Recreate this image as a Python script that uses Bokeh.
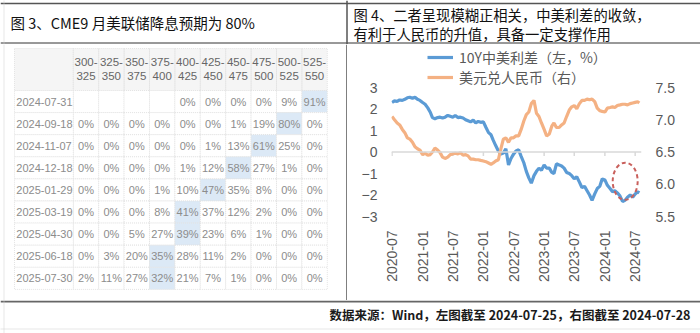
import math
from datetime import datetime
import pandas as pd
from bokeh.plotting import figure
from bokeh.layouts import column, row
from bokeh.models import (Range1d, LinearAxis, FixedTicker, Span, Label, Legend, LegendItem,
                          DatetimeTickFormatter, PrintfTickFormatter)
from bokeh.embed import file_html
from bokeh.resources import INLINE
from bokeh.core.properties import value

# ---------------- data ----------------
title_left = "图 3、CME9 月美联储降息预期为 80%"
title_right_1 = "图 4、二者呈现模糊正相关，中美利差的收敛，"
title_right_2 = "有利于人民币的升值，具备一定支撑作用"
footer_text = "数据来源：Wind，左图截至 2024-07-25，右图截至 2024-07-28"

rate_low = [300, 325, 350, 375, 400, 425, 450, 475, 500, 525]
rate_high = [325, 350, 375, 400, 425, 450, 475, 500, 525, 550]
meeting_dates = ["2024-07-31", "2024-09-18", "2024-11-07", "2024-12-18", "2025-01-29",
                 "2025-03-19", "2025-04-30", "2025-06-18", "2025-07-30"]
probs = [
    [None, None, None, None, 0, 0, 0, 0, 9, 91],
    [0, 0, 0, 0, 0, 0, 1, 19, 80, 0],
    [0, 0, 0, 0, 0, 1, 13, 61, 25, 0],
    [0, 0, 0, 0, 1, 12, 58, 27, 1, 0],
    [0, 0, 0, 1, 10, 47, 35, 8, 0, 0],
    [0, 0, 0, 8, 41, 37, 12, 2, 0, 0],
    [0, 0, 5, 27, 39, 23, 6, 1, 0, 0],
    [0, 3, 20, 35, 28, 11, 2, 0, 0, 0],
    [2, 11, 27, 32, 21, 7, 1, 0, 0, 0],
]

series_names = ["10Y中美利差（左，%）", "美元兑人民币（右）"]
# semi-monthly observations (1st and 16th of each month), 2020-07 .. 2024-07, plus last date
spread = [
    2.30, 2.38, 2.35, 2.42, 2.40, 2.45, 2.52, 2.55, 2.50, 2.55, 2.45, 2.40,   # 2020 H2
    2.30, 2.22, 2.05, 1.85, 1.60, 1.55, 1.60, 1.62, 1.58, 1.62, 1.70, 1.66,   # 2021 H1
    1.62, 1.70, 1.60, 1.62, 1.58, 1.50, 1.45, 1.40, 1.48, 1.35, 1.42, 1.38,   # 2021 H2
    1.40, 1.15, 0.90, 0.80, 0.55, 0.30, 0.05, -0.10, -0.05, 0.15, -0.60, -0.30,  # 2022 H1
    -0.10, 0.05, 0.10, -0.20, -0.50, -0.90, -1.20, -1.45, -1.10, -0.90, -0.75, -0.85,  # 2022 H2
    -0.60, -0.75, -0.75, -0.95, -1.00, -0.55, -0.60, -0.65, -0.75, -0.95, -1.00, -1.10,  # 2023 H1
    -1.25, -1.15, -1.40, -1.65, -1.60, -1.80, -2.00, -2.25, -1.95, -1.70, -1.60, -1.25,  # 2023 H2
    -1.30, -1.55, -1.70, -1.85, -1.80, -1.90, -2.05, -2.30, -2.25, -2.10, -2.00, -2.10,  # 2024 H1
    -1.95, -1.85, -1.90,
]
usdcny = [
    7.05, 7.00, 6.95, 6.92, 6.85, 6.80, 6.72, 6.70, 6.65, 6.58, 6.55, 6.53,
    6.46, 6.48, 6.45, 6.46, 6.50, 6.56, 6.53, 6.49, 6.42, 6.40, 6.42, 6.46,
    6.47, 6.48, 6.47, 6.49, 6.45, 6.46, 6.44, 6.39, 6.39, 6.38, 6.38, 6.37,
    6.36, 6.35, 6.33, 6.31, 6.33, 6.36, 6.38, 6.55, 6.70, 6.72, 6.65, 6.72,
    6.72, 6.75, 6.75, 6.85, 6.98, 7.08, 7.12, 7.25, 7.30, 7.10, 7.05, 6.95,
    6.85, 6.75, 6.78, 6.90, 6.95, 6.88, 6.88, 6.92, 6.95, 7.05, 7.15, 7.20,
    7.22, 7.17, 7.25, 7.30, 7.30, 7.32, 7.31, 7.32, 7.28, 7.18, 7.14, 7.13,
    7.12, 7.18, 7.19, 7.20, 7.19, 7.22, 7.23, 7.24, 7.24, 7.23, 7.25, 7.26,
    7.27, 7.28, 7.26,
]
first_month = "2020-07-01"
last_month = "2024-07-01"
last_date = "2024-07-26"
x_tick_labels = ["2020-07", "2021-01", "2021-07", "2022-01", "2022-07",
                 "2023-01", "2023-07", "2024-01", "2024-07"]
left_ticks = [-3, -2, -1, 0, 1, 2, 3]
right_ticks = [5.5, 6.0, 6.5, 7.0, 7.5]

months = pd.date_range(first_month, last_month, freq="MS")
dates = []
for m in months:
    dates.append(m)
    dates.append(m + pd.Timedelta(days=15))
dates.append(pd.Timestamp(last_date))
assert len(dates) == len(spread) == len(usdcny)

# ---------------- styling ----------------
CJK = "Noto Sans CJK SC"
LAT = "Liberation Sans"
AX_COL = "#595959"
BLUE = "#5b9bd5"
ORANGE = "#f4b183"
FRAME = "#555555"
DOT = "#cfcfcf"


def bare(fig):
    fig.grid.visible = False
    fig.outline_line_color = None
    fig.background_fill_color = "white"
    fig.border_fill_color = "white"
    return fig


# ---------------- title strip ----------------
top = bare(figure(width=700, height=44, x_range=Range1d(0, 700), y_range=Range1d(44, 0),
                  x_axis_location=None, y_axis_location=None, min_border=0,
                  output_backend="svg", toolbar_location=None))
top.add_layout(Span(location=3, dimension="width", line_color=FRAME, line_width=1.5))
top.add_layout(Span(location=42.5, dimension="width", line_color="#333333", line_width=1))
top.add_layout(Span(location=346.5, dimension="height", line_color=FRAME, line_width=1.5))
top.add_layout(Span(location=3.5, dimension="height", line_color=DOT, line_width=1, line_dash="1 1"))
top.add_layout(Label(x=10, y=22, text=title_left, text_font=CJK, text_font_size="14.5px",
                     text_color="#111111", text_baseline="middle"))
top.add_layout(Label(x=353, y=14, text=title_right_1, text_font=CJK, text_font_size="14.3px",
                     text_color="#111111", text_baseline="middle"))
top.add_layout(Label(x=353, y=33, text=title_right_2, text_font=CJK, text_font_size="14.3px",
                     text_color="#111111", text_baseline="middle"))

# ---------------- table (left) ----------------
W_T, H_T = 347, 256
PX_COL = 25.4     # pixel width of one rate column
X0 = 72.8         # pixel where first rate column starts
X_LEFT = 14.0     # pixel where table starts
PX_ROW = 22.1
Y0 = 46.0         # pixel (in this panel) where first data row starts
Y_TOP = 4.0       # pixel where header starts
LW = (X0 - X_LEFT) / PX_COL
HH = (Y0 - Y_TOP) / PX_ROW
TFS = "11px"
HFS = "11.5px"

tab = bare(figure(width=W_T, height=H_T,
                  x_range=Range1d(-X0 / PX_COL, (W_T - X0) / PX_COL),
                  y_range=Range1d((H_T - Y0) / PX_ROW, -Y0 / PX_ROW),
                  x_axis_location=None, y_axis_location=None, min_border=0,
                  output_backend="svg", toolbar_location=None))

ncol = len(rate_low)
tab.rect(x=[(-LW + ncol) / 2], y=[-HH / 2], width=LW + ncol, height=HH,
         fill_color="#f5f5f5", line_color=None)
tab.rect(x=[i + 0.5 for i in range(ncol)] + [-LW / 2], y=[-HH / 2] * (ncol + 1),
         width=[1] * ncol + [LW], height=HH, fill_color=None,
         line_color="#e3e3e3", line_dash="1 1", line_width=1)
tab.text(x=[i + 0.5 for i in range(ncol)], y=[-HH * 0.67] * ncol,
         text=[f"{a}-" for a in rate_low], text_align="center", text_baseline="middle",
         text_font=value(LAT), text_font_size=value(HFS), text_color="#666666")
tab.text(x=[i + 0.5 for i in range(ncol)], y=[-HH * 0.35] * ncol,
         text=[f"{b}" for b in rate_high], text_align="center", text_baseline="middle",
         text_font=value(LAT), text_font_size=value(HFS), text_color="#666666")

cx, cy, ctext, cfill = [], [], [], []
for r, rowvals in enumerate(probs):
    vals = [v for v in rowvals if v is not None]
    vmax = max(vals)
    for c, v in enumerate(rowvals):
        cx.append(c + 0.5)
        cy.append(r + 0.5)
        ctext.append("" if v is None else f"{v}%")
        cfill.append("#dce9f6" if v == vmax else "white")
tab.rect(x=cx, y=cy, width=1, height=1, fill_color=cfill, line_color="#e3e3e3",
         line_dash="1 1", line_width=1)
tab.rect(x=[-LW / 2] * len(meeting_dates), y=[r + 0.5 for r in range(len(meeting_dates))],
         width=LW, height=1, fill_color="white", line_color="#e3e3e3", line_dash="1 1")
tab.text(x=cx, y=cy, text=ctext, text_align="center", text_baseline="middle",
         text_font=value(LAT), text_font_size=value(TFS), text_color="#8c8c8c")
tab.text(x=[-LW + 0.07] * len(meeting_dates), y=[r + 0.5 for r in range(len(meeting_dates))],
         text=meeting_dates, text_align="left", text_baseline="middle",
         text_font=value(LAT), text_font_size=value(TFS), text_color="#8c8c8c")
tab.add_layout(Span(location=(346.5 - X0) / PX_COL, dimension="height", line_color=FRAME, line_width=1.5))
tab.add_layout(Span(location=(3.5 - X0) / PX_COL, dimension="height", line_color=DOT, line_dash="1 1"))

# ---------------- line chart (right) ----------------
W_C, H_C = 353, 256
PX_UNIT = 21.5                      # px per 1 unit of the left axis
y_top = 3 + (87 - 48) / PX_UNIT     # frame extends above 3 to hold the legend
ch = bare(figure(width=W_C, height=H_C, x_axis_type="datetime",
                 x_range=Range1d(datetime(2020, 6, 28), datetime(2024, 8, 8)),
                 y_range=Range1d(-3, y_top),
                 min_border_left=44, min_border_right=59, min_border_top=4, min_border_bottom=84,
                 output_backend="svg", toolbar_location=None))
ch.extra_y_ranges = {"fx": Range1d(5.5, 6.5 + y_top / 3)}

ch.yaxis.ticker = FixedTicker(ticks=left_ticks)
ax_r = LinearAxis(y_range_name="fx", ticker=FixedTicker(ticks=right_ticks),
                  formatter=PrintfTickFormatter(format="%.1f"))
ch.add_layout(ax_r, "right")

tick_dates = [pd.Timestamp(t + "-01") for t in x_tick_labels]
ch.xaxis.ticker = FixedTicker(ticks=[t.value / 1e6 for t in tick_dates])
ch.xaxis.formatter = DatetimeTickFormatter(days="%Y-%m", months="%Y-%m", years="%Y-%m")
ch.xaxis.major_label_orientation = math.pi / 2

for ax in ch.xaxis + ch.yaxis:
    ax.axis_line_color = None
    ax.major_tick_line_color = None
    ax.minor_tick_line_color = None
    ax.major_label_text_color = AX_COL
    ax.major_label_text_font = LAT
    ax.major_label_text_font_size = "14px"
    ax.major_label_standoff = 8

ch.add_layout(Span(location=0, dimension="width", line_color="#d9d9d9", line_width=1.5))
ch.segment(x0=tick_dates, y0=0, x1=tick_dates, y1=-4 / PX_UNIT, line_color="#d9d9d9", line_width=1.5)

r_blue = ch.line(dates, spread, line_color=BLUE, line_width=3.2)
r_orange = ch.line(dates, usdcny, line_color=ORANGE, line_width=3.2, y_range_name="fx")

ch.ellipse(x=[pd.Timestamp("2024-05-02")], y=[-1.36], width=150 * 86400000, height=1.73,
           fill_color=None, line_color="#c9605c", line_dash="4 3", line_width=2)

legend = Legend(items=[LegendItem(label=series_names[0], renderers=[r_blue]),
                       LegendItem(label=series_names[1], renderers=[r_orange])],
                location=(36, 129), orientation="vertical",
                label_text_font=CJK, label_text_font_size="14px", label_text_color=AX_COL,
                glyph_width=26, glyph_height=20, label_height=20, label_standoff=6,
                spacing=0, padding=0, margin=0, border_line_color=None,
                background_fill_alpha=0)
ch.add_layout(legend, "center")

# ---------------- footer ----------------
foot = bare(figure(width=700, height=33, x_range=Range1d(0, 700), y_range=Range1d(33, 0),
                   x_axis_location=None, y_axis_location=None, min_border=0,
                   output_backend="svg", toolbar_location=None))
foot.add_layout(Span(location=1, dimension="width", line_color="#666666", line_width=2))
foot.add_layout(Span(location=28.5, dimension="width", line_color=DOT, line_dash="1 1"))
foot.add_layout(Span(location=3.5, dimension="height", line_color=DOT, line_dash="1 1"))
foot.add_layout(Label(x=690, y=14, text=footer_text, text_font=CJK, text_font_size="12.5px",
                      text_font_style="bold", text_color="#1a1a1a", text_align="right",
                      text_baseline="middle"))

# wrap each panel in its own column so the row does not align their frames
layout = column(top, row(column(tab), column(ch)), foot)
open("out.html", "w").write(file_html(layout, INLINE))
